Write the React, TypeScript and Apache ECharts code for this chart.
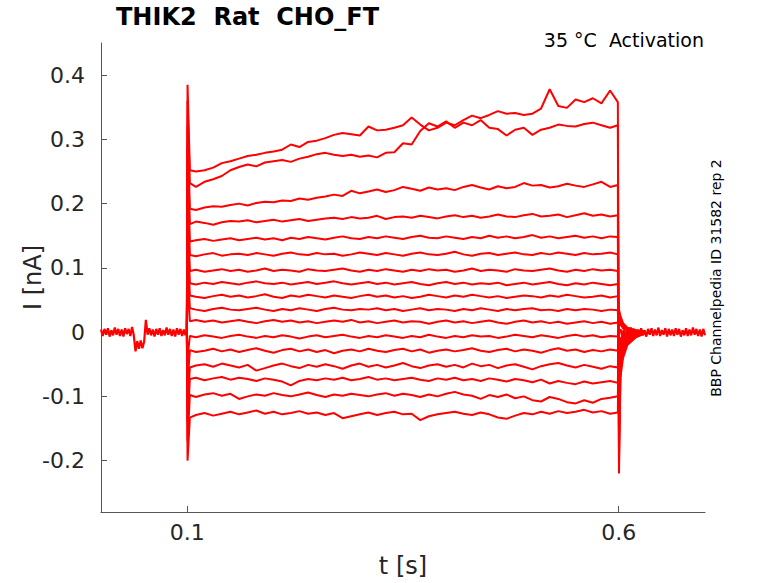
import React, { useEffect, useRef } from "react";
import * as echarts from "echarts";

// sweep values (nA), sampled at 0.103 s, 0.11 s ... 0.59 s, 0.599 s
const tr01 = [
  0.252, 0.250, 0.252, 0.256, 0.263, 0.266, 0.270, 0.274, 0.276, 0.279,
  0.281, 0.284, 0.292, 0.288, 0.296, 0.298, 0.302, 0.307, 0.310, 0.308,
  0.306, 0.320, 0.314, 0.315, 0.318, 0.322, 0.334, 0.323, 0.314, 0.318,
  0.326, 0.322, 0.330, 0.337, 0.333, 0.338, 0.344, 0.340, 0.341, 0.338,
  0.340, 0.348, 0.378, 0.352, 0.349, 0.362, 0.358, 0.364, 0.356, 0.376,
  0.358,
];
const tr02 = [
  0.232, 0.226, 0.234, 0.238, 0.243, 0.252, 0.257, 0.261, 0.258, 0.264,
  0.266, 0.268, 0.265, 0.270, 0.273, 0.277, 0.279, 0.276, 0.274, 0.276,
  0.273, 0.275, 0.272, 0.279, 0.280, 0.294, 0.292, 0.313, 0.325, 0.320,
  0.328, 0.318, 0.326, 0.322, 0.330, 0.318, 0.316, 0.306, 0.315, 0.318,
  0.307, 0.315, 0.318, 0.323, 0.321, 0.320, 0.324, 0.326, 0.322, 0.318,
  0.322,
];
const tr03 = [
  0.192, 0.190, 0.194, 0.196, 0.195, 0.198, 0.200, 0.197, 0.201, 0.203,
  0.202, 0.205, 0.204, 0.208, 0.206, 0.209, 0.211, 0.214, 0.212, 0.220,
  0.216, 0.219, 0.222, 0.218, 0.221, 0.226, 0.223, 0.220, 0.225, 0.222,
  0.224, 0.221, 0.226, 0.229, 0.225, 0.222, 0.227, 0.224, 0.226, 0.232,
  0.228, 0.229, 0.225, 0.227, 0.231, 0.228, 0.226, 0.230, 0.234, 0.226,
  0.229,
];
const tr04 = [
  0.168, 0.172, 0.170, 0.167, 0.171, 0.173, 0.172, 0.174, 0.171, 0.173,
  0.175, 0.172, 0.174, 0.176, 0.173, 0.175, 0.177, 0.178, 0.176, 0.179,
  0.177, 0.178, 0.181, 0.176, 0.179, 0.180, 0.178, 0.181, 0.179, 0.177,
  0.180, 0.182, 0.179, 0.181, 0.178, 0.180, 0.183, 0.180, 0.179, 0.182,
  0.184, 0.180, 0.181, 0.183, 0.179, 0.182, 0.185, 0.181, 0.183, 0.180,
  0.182,
];
const tr05 = [
  0.141, 0.143, 0.145, 0.142, 0.144, 0.146, 0.143, 0.145, 0.147, 0.144,
  0.146, 0.143, 0.147, 0.145, 0.148, 0.146, 0.144, 0.147, 0.149, 0.146,
  0.145, 0.148, 0.146, 0.149, 0.147, 0.145, 0.148, 0.150, 0.147, 0.146,
  0.149, 0.147, 0.145, 0.148, 0.146, 0.150, 0.147, 0.149, 0.146, 0.148,
  0.151, 0.147, 0.149, 0.146, 0.148, 0.150, 0.147, 0.149, 0.146, 0.149,
  0.148,
];
const tr06 = [
  0.120, 0.118, 0.121, 0.123, 0.119, 0.121, 0.122, 0.120, 0.123, 0.121,
  0.119, 0.122, 0.124, 0.121, 0.120, 0.123, 0.121, 0.122, 0.119, 0.121,
  0.124, 0.122, 0.120, 0.123, 0.121, 0.119, 0.122, 0.124, 0.121, 0.120,
  0.122, 0.125, 0.121, 0.119, 0.122, 0.123, 0.120, 0.122, 0.124, 0.121,
  0.120, 0.123, 0.121, 0.124, 0.122, 0.120, 0.123, 0.121, 0.122, 0.124,
  0.121,
];
const tr07 = [
  0.095, 0.097, 0.094, 0.096, 0.098, 0.095, 0.097, 0.094, 0.096, 0.099,
  0.095, 0.097, 0.096, 0.094, 0.098, 0.096, 0.095, 0.097, 0.099, 0.096,
  0.094, 0.097, 0.095, 0.098, 0.096, 0.094, 0.097, 0.095, 0.098, 0.096,
  0.097, 0.094, 0.096, 0.099, 0.095, 0.097, 0.096, 0.094, 0.098, 0.096,
  0.095, 0.097, 0.099, 0.096, 0.094, 0.097, 0.095, 0.098, 0.096, 0.097,
  0.095,
];
const tr08 = [
  0.076, 0.074, 0.077, 0.075, 0.078, 0.076, 0.074, 0.077, 0.079, 0.076,
  0.075, 0.077, 0.074, 0.076, 0.078, 0.075, 0.077, 0.079, 0.076, 0.074,
  0.076, 0.078, 0.075, 0.077, 0.074, 0.076, 0.078, 0.075, 0.073, 0.076,
  0.078, 0.075, 0.077, 0.074, 0.076, 0.075, 0.077, 0.073, 0.075, 0.077,
  0.074, 0.076, 0.078, 0.075, 0.073, 0.076, 0.074, 0.077, 0.075, 0.073,
  0.075,
];
const tr09 = [
  0.057, 0.055, 0.053, 0.056, 0.058, 0.055, 0.057, 0.054, 0.056, 0.059,
  0.055, 0.053, 0.057, 0.055, 0.058, 0.056, 0.054, 0.057, 0.055, 0.053,
  0.056, 0.058, 0.055, 0.057, 0.054, 0.056, 0.053, 0.055, 0.058, 0.056,
  0.054, 0.057, 0.055, 0.058, 0.056, 0.054, 0.056, 0.053, 0.055, 0.057,
  0.056, 0.054, 0.057, 0.055, 0.058, 0.056, 0.054, 0.055, 0.057, 0.054,
  0.056,
];
const tr10 = [
  0.037, 0.035, 0.033, 0.036, 0.038, 0.035, 0.034, 0.036, 0.038, 0.035,
  0.033, 0.036, 0.034, 0.037, 0.035, 0.033, 0.036, 0.038, 0.035, 0.034,
  0.036, 0.035, 0.037, 0.034, 0.036, 0.033, 0.035, 0.037, 0.034, 0.036,
  0.035, 0.033, 0.036, 0.034, 0.037, 0.035, 0.033, 0.036, 0.034, 0.036,
  0.037, 0.034, 0.035, 0.033, 0.036, 0.034, 0.036, 0.035, 0.033, 0.035,
  0.034,
];
const tr11 = [
  0.017, 0.019, 0.016, 0.018, 0.015, 0.017, 0.019, 0.016, 0.014, 0.017,
  0.019, 0.016, 0.018, 0.015, 0.017, 0.014, 0.016, 0.018, 0.016, 0.019,
  0.015, 0.017, 0.014, 0.016, 0.018, 0.015, 0.017, 0.016, 0.013, 0.016,
  0.018, 0.015, 0.017, 0.014, 0.016, 0.018, 0.015, 0.013, 0.016, 0.018,
  0.015, 0.017, 0.014, 0.016, 0.013, 0.015, 0.017, 0.014, 0.016, 0.013,
  0.015,
];
const tr12 = [
  -0.006, -0.008, -0.005, -0.007, -0.009, -0.006, -0.004, -0.007, -0.009, -0.006,
  -0.008, -0.005, -0.007, -0.010, -0.007, -0.005, -0.008, -0.006, -0.004, -0.007,
  -0.009, -0.006, -0.008, -0.005, -0.007, -0.009, -0.006, -0.008, -0.004, -0.007,
  -0.009, -0.006, -0.008, -0.005, -0.007, -0.006, -0.009, -0.007, -0.004, -0.006,
  -0.008, -0.005, -0.007, -0.009, -0.006, -0.004, -0.007, -0.005, -0.008, -0.006,
  -0.007,
];
const tr13 = [
  -0.028, -0.031, -0.029, -0.026, -0.030, -0.027, -0.031, -0.028, -0.025, -0.029,
  -0.032, -0.028, -0.026, -0.030, -0.027, -0.031, -0.028, -0.033, -0.029, -0.027,
  -0.030, -0.026, -0.029, -0.031, -0.028, -0.026, -0.030, -0.027, -0.032, -0.029,
  -0.027, -0.030, -0.028, -0.025, -0.029, -0.031, -0.028, -0.026, -0.030, -0.027,
  -0.029, -0.032, -0.028, -0.025, -0.029, -0.027, -0.031, -0.028, -0.030, -0.027,
  -0.029,
];
const tr14 = [
  -0.055, -0.052, -0.050, -0.054, -0.049, -0.052, -0.055, -0.051, -0.060, -0.056,
  -0.052, -0.049, -0.053, -0.056, -0.051, -0.054, -0.050, -0.053, -0.057, -0.052,
  -0.049, -0.054, -0.051, -0.055, -0.052, -0.048, -0.053, -0.056, -0.052, -0.050,
  -0.054, -0.051, -0.055, -0.049, -0.053, -0.051, -0.056, -0.052, -0.050, -0.054,
  -0.058, -0.053, -0.050, -0.048, -0.052, -0.055, -0.051, -0.054, -0.057, -0.053,
  -0.055,
];
const tr15 = [
  -0.073, -0.071, -0.075, -0.072, -0.070, -0.074, -0.071, -0.073, -0.076, -0.072,
  -0.074, -0.077, -0.083, -0.076, -0.073, -0.075, -0.072, -0.074, -0.071, -0.075,
  -0.073, -0.070, -0.074, -0.072, -0.075, -0.073, -0.071, -0.074, -0.076, -0.072,
  -0.074, -0.071, -0.075, -0.073, -0.076, -0.072, -0.074, -0.077, -0.073, -0.075,
  -0.078, -0.074, -0.080, -0.076, -0.079, -0.081, -0.077, -0.080, -0.078, -0.076,
  -0.079,
];
const tr16 = [
  -0.098, -0.101, -0.097, -0.095, -0.099, -0.096, -0.104, -0.100, -0.097, -0.099,
  -0.095, -0.098, -0.100, -0.097, -0.094, -0.098, -0.101, -0.097, -0.099, -0.096,
  -0.098, -0.100, -0.097, -0.095, -0.099, -0.096, -0.098, -0.101, -0.097, -0.100,
  -0.096, -0.093, -0.097, -0.099, -0.104, -0.098, -0.101, -0.097, -0.103, -0.100,
  -0.106, -0.108, -0.101, -0.104, -0.109, -0.111, -0.106, -0.110, -0.104, -0.102,
  -0.100,
];
const tr17 = [
  -0.133, -0.129, -0.126, -0.130, -0.127, -0.124, -0.128, -0.125, -0.122, -0.127,
  -0.124, -0.128, -0.126, -0.123, -0.127, -0.125, -0.129, -0.126, -0.134, -0.131,
  -0.128, -0.125, -0.129, -0.126, -0.124, -0.128, -0.127, -0.137, -0.131, -0.128,
  -0.126, -0.124, -0.127, -0.129, -0.125, -0.128, -0.133, -0.135, -0.130, -0.126,
  -0.128, -0.124, -0.127, -0.123, -0.126, -0.124, -0.121, -0.125, -0.123, -0.127,
  -0.125,
];

// capacitive transients at step on / step off
const onsetPeaks = [0.385, 0.36, 0.32, 0.29, 0.26, 0.23, 0.2, 0.17, 0.14, 0.11, 0.08, -0.04, -0.08, -0.11, -0.14, -0.17, -0.2];
const offsetPeaks = [-0.22, -0.2, -0.17, -0.15, -0.13, -0.11, -0.09, -0.07, -0.05, -0.03, -0.02, 0.01, 0.02, 0.025, 0.03, 0.03, 0.035];

// tail currents after the step, at 0.602, 0.605, 0.61, 0.62, 0.63 s
const tailTimes = [0.602, 0.605, 0.61, 0.62, 0.63];
const tails = [
  [-0.07, -0.04, -0.02, -0.008, -0.002],
  [-0.06, -0.035, -0.018, -0.007, -0.002],
  [-0.05, -0.03, -0.015, -0.006, -0.001],
  [-0.045, -0.025, -0.012, -0.005, -0.001],
  [-0.04, -0.02, -0.01, -0.004, 0],
  [-0.035, -0.018, -0.009, -0.003, 0.001],
  [-0.03, -0.015, -0.007, -0.002, 0],
  [-0.025, -0.012, -0.006, -0.002, 0.001],
  [-0.02, -0.01, -0.005, -0.001, 0],
  [-0.015, -0.008, -0.004, -0.001, 0.001],
  [-0.01, -0.005, -0.002, 0, 0],
  [0.012, 0.006, 0.003, 0.001, 0],
  [0.015, 0.008, 0.004, 0.001, -0.001],
  [0.018, 0.01, 0.005, 0.002, 0],
  [0.02, 0.011, 0.005, 0.002, 0.001],
  [0.022, 0.012, 0.006, 0.002, 0],
  [0.025, 0.014, 0.007, 0.003, 0.001],
];

// holding current before the step (every 2 ms from 0 s)
const preBase = [
  0.004, -0.006, 0.005, -0.004, 0.006, -0.007, 0.003, -0.005, 0.007, -0.004,
  0.005, -0.006, 0.004, -0.007, 0.006, -0.003, 0.005, -0.006, 0.008, -0.005,
  -0.030, -0.014, -0.026, -0.013, -0.025, -0.015, 0.019, -0.004, 0.006, -0.005,
  0.004, -0.007, 0.005, -0.004, 0.006, -0.006, 0.003, -0.005, 0.007, -0.004,
  0.005, -0.006, 0.004, -0.007, 0.006, -0.004, 0.005, -0.006, 0.004, -0.005,
];
// holding current after the step (every 2 ms from 0.602 s)
const postBase = [
  0.005, -0.006, 0.004, -0.008, 0.006, -0.005, 0.007, -0.004, 0.005, -0.007,
  0.004, -0.006, 0.006, -0.005, 0.003, -0.007, 0.005, -0.004, 0.006, -0.006,
  0.004, -0.005, 0.007, -0.006, 0.003, -0.004, 0.006, -0.007, 0.005, -0.005,
  0.004, -0.006, 0.006, -0.004, 0.005, -0.007, 0.003, -0.005, 0.006, -0.006,
  0.004, -0.005, 0.007, -0.004, 0.005, -0.006, 0.004, -0.007, 0.005, -0.005,
];

const yTicks = [-0.2, -0.1, 0, 0.1, 0.2, 0.3, 0.4];
const xTicks = [0.1, 0.6];

const traces = [tr01, tr02, tr03, tr04, tr05, tr06, tr07, tr08, tr09, tr10, tr11, tr12, tr13, tr14, tr15, tr16, tr17];

const stepTimes: number[] = [0.103];
for (let k = 1; k <= 49; k++) stepTimes.push(+(0.1 + k * 0.01).toFixed(3));
stepTimes.push(0.599);

const FONT = "DejaVu Sans";
const RED = "#ff0000";

const App = () => {
  const chartRef = useRef<HTMLDivElement>(null);

  useEffect(() => {
    const myChart = echarts.init(chartRef.current!, null, { renderer: "svg" });

    const sweepSeries = traces.map((vals, i) => ({
      type: "line",
      symbol: "none",
      silent: true,
      lineStyle: { color: RED, width: 2 },
      data: [
        [0.0995, 0],
        [0.1003, onsetPeaks[i]],
        ...stepTimes.map((t, k) => [t, vals[k]]),
        [0.6003, offsetPeaks[i]],
        ...tailTimes.map((t, k) => [t, tails[i][k]]),
      ],
    }));

    const option = {
      animation: false,
      textStyle: { fontFamily: FONT },
      grid: { left: 101, right: 73, top: 43, bottom: 71 },
      xAxis: {
        type: "value",
        min: 0,
        max: 0.7,
        name: "t [s]",
        nameLocation: "middle",
        nameGap: 42,
        nameMoveOverlap: false,
        nameTextStyle: { fontSize: 24, color: "#262626", fontFamily: FONT },
        axisLine: { onZero: false, lineStyle: { color: "#555", width: 1 } },
        axisTick: { inside: true, length: 6, customValues: xTicks, lineStyle: { color: "#555" } },
        axisLabel: { customValues: xTicks, fontSize: 22, color: "#262626", margin: 9, fontFamily: FONT },
        splitLine: { show: false },
      },
      yAxis: {
        type: "value",
        min: -0.28,
        max: 0.45,
        name: "I [nA]",
        nameLocation: "middle",
        nameGap: 56,
        nameMoveOverlap: false,
        nameTextStyle: { fontSize: 24, color: "#262626", fontFamily: FONT },
        axisLine: { show: true, onZero: false, lineStyle: { color: "#555", width: 1 } },
        axisTick: { show: true, inside: true, length: 6, customValues: yTicks, lineStyle: { color: "#555" } },
        axisLabel: { customValues: yTicks, fontSize: 22, color: "#262626", margin: 16, fontFamily: FONT },
        splitLine: { show: false },
      },
      graphic: [
        {
          type: "text",
          left: 116,
          top: 5,
          style: { text: "THIK2  Rat  CHO_FT", font: `bold 24px ${FONT}`, fill: "#000" },
        },
        {
          type: "text",
          right: 74,
          top: 30,
          style: { text: "35 °C  Activation", font: `19px ${FONT}`, fill: "#000" },
        },
        {
          type: "text",
          x: 716,
          y: 278,
          rotation: Math.PI / 2,
          style: {
            text: "BBP Channelpedia ID 31582 rep 2",
            font: `14px ${FONT}`,
            fill: "#000",
            align: "center",
            verticalAlign: "middle",
          },
        },
      ],
      series: [
        {
          type: "line",
          symbol: "none",
          silent: true,
          lineStyle: { color: RED, width: 2.2 },
          data: preBase.map((v, i) => [i * 0.002, v]),
        },
        {
          type: "line",
          symbol: "none",
          silent: true,
          lineStyle: { color: RED, width: 2.2 },
          data: postBase.map((v, i) => [0.602 + i * 0.002, v]),
        },
        ...sweepSeries,
      ],
    };
    myChart.setOption(option);

    return () => {
      myChart.dispose();
    };
  }, []);

  return (
    <div
      ref={chartRef}
      style={{ position: "fixed", left: 0, top: 0, width: 778, height: 583, background: "#fff" }}
    ></div>
  );
};
export default App;
